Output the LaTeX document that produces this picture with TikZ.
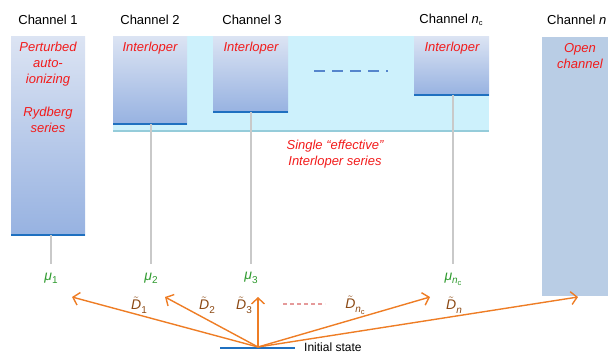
\documentclass[tikz,border=0pt]{standalone}
\usepackage{amsmath}
\usepackage{fontspec}
\setmainfont{Liberation Sans}
\usetikzlibrary{arrows.meta}
\definecolor{gtop}{HTML}{DCE4F3}
\definecolor{gbot}{HTML}{97B2E1}
\definecolor{bline}{HTML}{1F70C0}
\definecolor{cyanbg}{HTML}{CDF1FC}
\definecolor{cyanln}{HTML}{95CCDA}
\definecolor{openbx}{HTML}{B9CDE5}
\definecolor{grayln}{HTML}{C9C9C9}
\definecolor{redtx}{HTML}{F21B1B}
\definecolor{greentx}{HTML}{2E9A2E}
\definecolor{browntx}{HTML}{8C4A15}
\definecolor{orarr}{HTML}{EE7D25}
\definecolor{pinkdash}{HTML}{E59A9A}
\definecolor{dashblue}{HTML}{5585CC}
\newcommand{\mysub}[1]{\raisebox{-0.45ex}{\fontsize{10}{10}\selectfont #1}}
\newcommand{\mysubsub}[1]{\raisebox{-0.35ex}{\fontsize{7.5}{7.5}\selectfont #1}}
\newcommand{\Dt}{\ensuremath{\tilde{\textit{D}}}}
\begin{document}
\begin{tikzpicture}[x=1pt,y=-1pt,
  gbox/.style={rectangle, inner sep=0pt, outer sep=0pt, top color=gtop, bottom color=gbot, anchor=north west},
  bgbox/.style={rectangle, inner sep=0pt, outer sep=0pt, fill=cyanbg, anchor=north west},
  obox/.style={rectangle, inner sep=0pt, outer sep=0pt, fill=openbx, anchor=north west},
  blueline/.style={draw=bline, line width=1.8pt},
  grayline/.style={draw=grayln, line width=2.4pt},
  chlabel/.style={font=\fontsize{13}{16}\selectfont, inner sep=1pt},
  redlabel/.style={font=\fontsize{13}{16}\selectfont\itshape, text=redtx, align=center, inner sep=0pt},
  mulabel/.style={font=\fontsize{14}{16}\selectfont, text=greentx, inner sep=1pt},
  dlabel/.style={font=\fontsize{14}{16}\selectfont, text=browntx, inner sep=1pt},
  arr/.style={draw=orarr, line width=1.4pt, -{Straight Barb[length=6pt,width=13pt,line width=1.4pt]}}
]
\path[use as bounding box, clip] (0,0) rectangle (608,354);

% background of effective interloper series
\node[bgbox, minimum width=376pt, minimum height=95pt] (bg) at (113,36) {};
\draw[draw=cyanln, line width=2pt] (bg.south west) -- (bg.south east);

% channel boxes
\node[gbox, minimum width=74pt, minimum height=199pt] (c1) at (11,36) {};
\node[gbox, minimum width=74pt, minimum height=88pt] (c2) at (113,36) {};
\node[gbox, minimum width=75pt, minimum height=76pt] (c3) at (213,36) {};
\node[gbox, minimum width=75pt, minimum height=59pt] (cn) at (414,36) {};
\node[obox, minimum width=80pt, minimum height=259pt] (co) at (542,37) {};

\draw[blueline] (c1.south west) -- (c1.south east);
\draw[blueline] (c2.south west) -- (c2.south east);
\draw[blueline] (c3.south west) -- (c3.south east);
\draw[blueline] (cn.south west) -- (cn.south east);

% dashed marker
\coordinate (dl) at (314,71);
\coordinate (dr) at (388,71);
\draw[draw=dashblue, line width=2.6pt, dash pattern=on 11pt off 7pt] (dl) -- (dr);

% channel labels
\node[chlabel] (h1) at (48,20) {Channel 1};
\node[chlabel] (h2) at (150,20) {Channel 2};
\node[chlabel] (h3) at (252,20) {Channel 3};
\node[chlabel] (hn) at (451,20) {Channel \textit{n}\mysubsub{c}};
\node[chlabel, anchor=west] (ho) at (546,20) {Channel \textit{n}};

% red labels
\node[redlabel] (r1) at (48,64) {Perturbed\\auto-\\ionizing};
\node[redlabel] (r1b) at (48,120) {Rydberg\\series};
\node[redlabel] (r2) at (150,48) {Interloper};
\node[redlabel] (r3) at (251,48) {Interloper};
\node[redlabel] (rn) at (452,48) {Interloper};
\node[redlabel] (ro) at (580,56) {Open\\channel};
\node[redlabel] (rs) at (335,154) {Single \char"201Ceffective\char"201D\\Interloper series};

% mu labels
\node[mulabel] (mu1) at (51,278) {\textit{μ}\mysub{1}};
\node[mulabel] (mu2) at (151,278) {\textit{μ}\mysub{2}};
\node[mulabel] (mu3) at (251,278) {\textit{μ}\mysub{3}};
\node[mulabel] (mun) at (453,279) {\textit{μ}\mysub{\textit{n}\mysubsub{c}}};

% gray lines
\draw[grayline, shorten >=7pt] (mu1 |- c1.south) -- (mu1.north);
\draw[grayline, shorten >=7pt] (mu2 |- c2.south) -- (mu2.north);
\draw[grayline, shorten >=7pt] (mu3 |- c3.south) -- (mu3.north);
\draw[grayline, shorten >=7pt] (mun |- cn.south) -- (mun.north);

% initial state
\coordinate (il) at (220,348);
\coordinate (ir) at (295,348);
\draw[blueline] (il) -- (ir);
\node[font=\fontsize{12}{14}\selectfont, anchor=west, inner sep=0pt] (init) at (304,347) {Initial state};

% arrows
\coordinate (o) at (258,347);
\coordinate (t1) at (72,297);
\coordinate (t2) at (165,297);
\coordinate (t3) at (258,297);
\coordinate (t4) at (430,297);
\coordinate (t5) at (578,297);
\draw[arr] (o) -- (t1);
\draw[arr] (o) -- (t2);
\draw[arr] (o) -- (t3);
\draw[arr] (o) -- (t4);
\draw[arr] (o) -- (t5);

% D labels
\node[dlabel] (d1) at (139,305) {\Dt\mysub{1}};
\node[dlabel] (d2) at (207,305) {\Dt\mysub{2}};
\node[dlabel] (d3) at (244,305) {\Dt\mysub{3}};
\node[dlabel] (d4) at (355,305) {\Dt\mysub{\textit{n}\mysubsub{c}}};
\node[dlabel] (d5) at (454,305) {\Dt\mysub{\textit{n}}};

% pink dashed
\coordinate (pl) at (283,304);
\coordinate (pr) at (325,304);
\draw[draw=pinkdash, line width=1.2pt, dash pattern=on 4pt off 3pt] (pl) -- (pr);
\end{tikzpicture}
\end{document}
